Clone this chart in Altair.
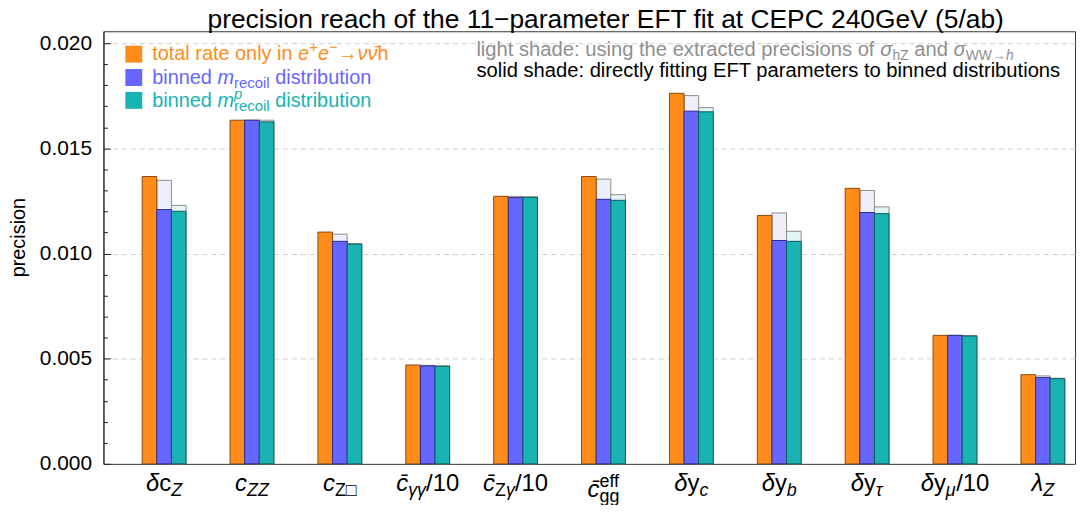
import altair as alt
import pandas as pd

# ---------------- data ----------------
categories = ["dcZ", "cZZ", "cZbox", "cgaga/10", "cZga/10", "cgg_eff",
              "dyc", "dyb", "dytau", "dymu/10", "lamZ"]
total_rate = [0.01366, 0.01634, 0.01102, 0.00470, 0.01272, 0.01366,
              0.01762, 0.01181, 0.01310, 0.00611, 0.00424]
mrec_light = [0.01348, 0.01634, 0.01092, 0.00468, 0.01272, 0.01354,
              0.01751, 0.01193, 0.01300, 0.00611, 0.00418]
mrec_solid = [0.01209, 0.01634, 0.01058, 0.00466, 0.01266, 0.01258,
              0.01677, 0.01062, 0.01195, 0.00611, 0.00410]
mrecp_light = [0.01229, 0.01634, 0.01047, 0.00466, 0.01270, 0.01280,
               0.01694, 0.01106, 0.01222, 0.00610, 0.00407]
mrecp_solid = [0.01201, 0.01626, 0.01045, 0.00464, 0.01267, 0.01253,
               0.01674, 0.01058, 0.01190, 0.00608, 0.00405]

y_tick_values = [0.0, 0.005, 0.010, 0.015, 0.020]
y_minor_values = [i / 1000 for i in range(0, 21)]

# tick-label pieces: (text, role m=main b=sub p=sup, italic)
x_label_pieces = [
    [("δ", "m", 1), ("c", "m", 0), ("Z", "b", 1)],
    [("c", "m", 1), ("ZZ", "b", 1)],
    [("c", "m", 1), ("Z□", "b", 0)],
    [("c\u0304", "m", 1), ("γγ", "b", 1), ("/10", "m", 0)],
    [("c\u0304", "m", 1), ("Z", "b", 0), ("γ", "b", 1), ("/10", "m", 0)],
    [("c\u0304", "m", 1), ("gg", "b", 0), ("eff", "p", 0)],
    [("δ", "m", 1), ("y", "m", 0), ("c", "b", 1)],
    [("δ", "m", 1), ("y", "m", 0), ("b", "b", 1)],
    [("δ", "m", 1), ("y", "m", 0), ("τ", "b", 1)],
    [("δ", "m", 1), ("y", "m", 0), ("μ", "b", 1), ("/10", "m", 0)],
    [("λ", "m", 1), ("Z", "b", 1)],
]

legend_pieces = [
    [("total rate only in ", "m", 0), ("e", "m", 1), ("+", "p", 0), ("e", "m", 1),
     ("−", "p", 0), ("→", "m", 0), ("νν\u0304", "m", 1), ("h", "m", 0)],
    [("binned ", "m", 0), ("m", "m", 1), ("recoil", "b", 0), (" distribution", "m", 0)],
    [("binned ", "m", 0), ("m", "m", 1), ("recoil", "b", 0), ("p", "p", 1), (" distribution", "m", 0)],
]
note_pieces = [
    [("light shade: using the extracted precisions of ", "m", 0), ("σ", "m", 1), ("hZ", "b", 0),
     (" and ", "m", 0), ("σ", "m", 1), ("WW→", "b", 0), ("h", "b", 1)],
    [("solid shade: directly fitting EFT parameters to binned distributions", "m", 0)],
]
title_text = "precision reach of the 11−parameter EFT fit at CEPC 240GeV (5/ab)"
y_title = "precision"

# ---------------- style ----------------
F = "Liberation Sans"
W, H = 977, 435
XMIN, XMAX = 0.31, 11.366
YMAX = 0.02057
BW = 0.1663
UNIT_PER_PX = (XMAX - XMIN) / W
solid_fill = ["#ff8c1a", "#6666ff", "#1ab3b3"]
solid_stroke = ["#8a4a0a", "#2c2c8a", "#0e5e5e"]
light_fill = ["#ffffff", "#efeffc", "#e3f4f4"]

CW = {' ': .278, '/': .278, ':': .278, '→': 1.0, '−': .584, '+': .584, '□': .604,
      'δ': .556, 'γ': .5, 'τ': .43, 'μ': .576, 'λ': .5, 'ν': .5, 'σ': .6,
      '\u0304': 0.0, 'a': .556, 'b': .556, 'c': .5, 'd': .556, 'e': .556, 'f': .278,
      'g': .556, 'h': .556, 'i': .222, 'l': .222, 'm': .833, 'n': .556, 'o': .556,
      'p': .556, 'r': .333, 's': .5, 't': .278, 'u': .556, 'v': .5, 'x': .5, 'y': .5,
      'Z': .611, 'W': .944, 'E': .667, 'F': .611, 'T': .611}


def tw(s, size):
    return sum(CW.get(ch, 0.556) for ch in s) * size


def layout(pieces, main, sub, dsub, dsup):
    """Place text pieces left to right; leading/trailing spaces become advances."""
    out, cur, sub_start = [], 0.0, None
    for text, role, it in pieces:
        size = main if role == "m" else sub
        lead = len(text) - len(text.lstrip(" "))
        trail = len(text) - len(text.rstrip(" "))
        core = text.strip(" ")
        if role == "m":
            cur += lead * CW[' '] * size
            out.append((core, cur, 0, size, it))
            cur += tw(core, size) + trail * CW[' '] * size
            sub_start = None
        elif role == "b":
            if sub_start is None:
                sub_start = cur
            out.append((core, cur, dsub, size, it))
            cur += tw(core, size)
        else:
            x = sub_start if sub_start is not None else cur
            out.append((core, x, dsup, size, it))
            cur = max(cur, x + tw(core, size))
    return out, cur


def seg_chart(text, px, py, size, italic, color, align="left"):
    return alt.Chart(alt.Data(values=[{"a": 1}])).mark_text(
        text=text, align=align, baseline="alphabetic", font=F, fontSize=size,
        fontStyle="italic" if italic else "normal", color=color
    ).encode(x=alt.value(px), y=alt.value(py))


xs = alt.Scale(domain=[XMIN, XMAX], nice=False, zero=False, padding=0)
ys = alt.Scale(domain=[0, YMAX], nice=False, zero=True, padding=0)

# ---------------- bars ----------------
rows = []
for i in range(len(categories)):
    g = i + 1
    rows.append(dict(grp=g, s=0, kind="solid", v=total_rate[i]))
    rows.append(dict(grp=g, s=1, kind="light", v=mrec_light[i]))
    rows.append(dict(grp=g, s=2, kind="light", v=mrecp_light[i]))
    rows.append(dict(grp=g, s=1, kind="solid", v=mrec_solid[i]))
    rows.append(dict(grp=g, s=2, kind="solid", v=mrecp_solid[i]))
bars = pd.DataFrame(rows)

x_tick_values = [g + 0.5 for g in range(1, len(categories))]
for g in range(1, len(categories) + 1):
    x_tick_values += [g - BW, g, g + BW]

base = alt.Chart(bars).transform_calculate(
    x0=f"datum.grp + (datum.s - 1) * {BW} - {BW / 2}",
    x1=f"datum.grp + (datum.s - 1) * {BW} + {BW / 2}",
)

light = base.transform_filter("datum.kind == 'light'").mark_bar(
    stroke="#8c8c8c", strokeWidth=1
).encode(
    x=alt.X("x0:Q", scale=xs, axis=alt.Axis(
        orient="top", offset=-H, values=x_tick_values, labels=False,
        domain=True, domainColor="#222", domainWidth=1,
        grid=False, title=None, tickColor="#222", tickWidth=1, zindex=1,
        tickSize={"condition": {"test": "abs(datum.value - floor(datum.value) - 0.5) < 0.01",
                                "value": 8}, "value": 5})),
    x2="x1:Q",
    y=alt.Y("v:Q", scale=ys, axis=alt.Axis(
        orient="right", offset=-W, values=y_minor_values, labels=False,
        domain=True, domainColor="#222", domainWidth=1,
        grid=False, title=None, tickColor="#222", tickWidth=1, zindex=1,
        tickSize={"condition": {"test": "round(datum.value * 1000) % 5 == 0", "value": 7},
                  "value": 4})),
    y2=alt.datum(0),
    fill=alt.Fill("s:N", scale=alt.Scale(domain=[0, 1, 2], range=light_fill), legend=None),
)

solid = base.transform_filter("datum.kind == 'solid'").mark_bar(strokeWidth=1).encode(
    x=alt.X("x0:Q", scale=xs, axis=None),
    x2="x1:Q",
    y=alt.Y("v:Q", scale=ys, axis=alt.Axis(
        orient="left", values=y_tick_values, format=".3f", ticks=False, tickSize=0,
        domain=False, grid=True, gridDash=[5, 4], gridColor="#cfcfcf", gridWidth=1,
        gridOpacity={"condition": {"test": "datum.value == 0", "value": 0}, "value": 1},
        labelFont=F, labelFontSize=21, labelColor="#000", labelPadding=12,
        title=y_title, titleFont=F, titleFontSize=20, titleFontWeight="normal",
        titleColor="#000", titleAngle=270, titleX=-79, titleY=207,
        titleAlign="center", titleBaseline="alphabetic")),
    y2=alt.datum(0),
    fill=alt.Fill("s:N", scale=alt.Scale(domain=[0, 1, 2], range=solid_fill), legend=None),
    stroke=alt.Stroke("s:N", scale=alt.Scale(domain=[0, 1, 2], range=solid_stroke), legend=None),
)

bar_layer = alt.layer(light, solid).resolve_scale(fill="independent", stroke="independent")
layers = [bar_layer]

# ---------------- x tick labels ----------------
lab_rows = []
for i, pieces in enumerate(x_label_pieces):
    segs, total = layout(pieces, 24, 18, 5, -10)
    has_sup = any(r == "p" for _, r, _ in pieces)
    base_y = 468 if has_sup else 462
    for text, dx, dy, size, it in segs:
        lab_rows.append(dict(gx=(i + 1) + (dx - total / 2) * UNIT_PER_PX, text=text,
                             py=base_y + dy, size=size, it=it))
labdf = pd.DataFrame(lab_rows)
for (py, it), sub in labdf.groupby(["py", "it"]):
    layers.append(alt.Chart(sub).mark_text(
        align="left", baseline="alphabetic", font=F, color="#000",
        fontStyle="italic" if it else "normal"
    ).encode(
        x=alt.X("gx:Q", scale=xs, axis=None),
        y=alt.value(float(py)),
        text="text:N",
        size=alt.Size("size:Q", scale=None),
    ))

# ---------------- legend ----------------
leg_y = [29, 53, 76]
sq_y = [23, 46.5, 69.5]
for k, pieces in enumerate(legend_pieces):
    layers.append(alt.Chart(alt.Data(values=[{"a": 1}])).mark_square(
        size=289, filled=True, color=solid_fill[k], opacity=1
    ).encode(x=alt.value(30.5), y=alt.value(sq_y[k])))
    segs, _ = layout(pieces, 20, 15, 4, -8)
    for text, dx, dy, size, it in segs:
        layers.append(seg_chart(text, 49 + dx, leg_y[k] + dy, size, it, solid_fill[k]))

# ---------------- note text ----------------
note_y = [25, 46]
note_col = ["#8f8f8f", "#000000"]
for k, pieces in enumerate(note_pieces):
    segs, _ = layout(pieces, 20.3, 14, 4, -8)
    for text, dx, dy, size, it in segs:
        layers.append(seg_chart(text, 375 + dx, note_y[k] + dy, size, it, note_col[k]))

# ---------------- title ----------------
layers.append(seg_chart(title_text, 505, -3, 26.5, 0, "#000", align="center"))

chart = alt.layer(*layers).resolve_axis(x="independent", y="independent").properties(
    width=W, height=H,
    padding={"left": 96, "top": 22, "right": 5, "bottom": 40},
    autosize=alt.AutoSizeParams(type="none"),
    background="white",
).configure_view(stroke="#333333", strokeWidth=1)

chart.save("out.html", embed_options={"renderer": "svg", "actions": False})
